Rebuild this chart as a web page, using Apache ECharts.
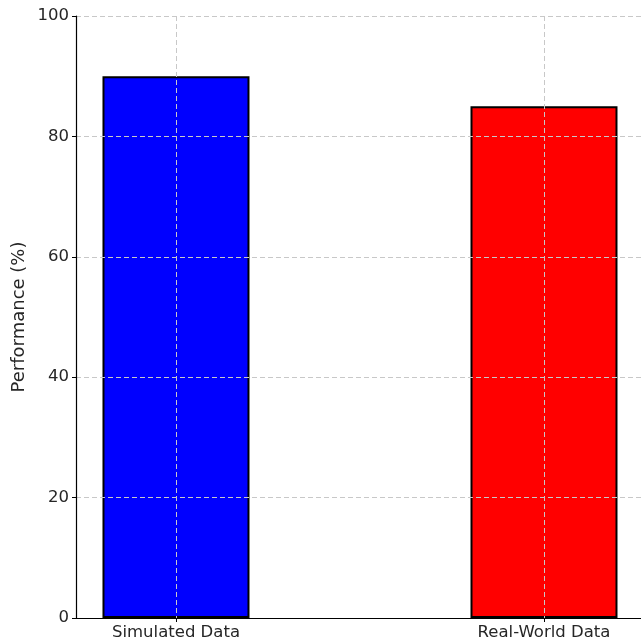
<!DOCTYPE html>
<html>
<head>
<meta charset="utf-8">
<style>
  html, body { margin: 0; padding: 0; background: #fff; }
  #chart { width: 641px; height: 644px; }
</style>
<script src="https://cdn.jsdelivr.net/npm/echarts@6/dist/echarts.min.js"></script>
</head>
<body>
<div id="chart"></div>
<script>
// Categories and their performance scores (%)
const categories = ['Simulated Data', 'Real-World Data'];
const performance = [90, 85];
const barColors = ['#0000ff', '#ff0000'];
const yTicks = [0, 20, 40, 60, 80, 100];

const positions = categories.map((_, i) => i);
const font = 'DejaVu Sans, sans-serif';
const gridLine = { color: '#c8c8c8', type: [5, 3], width: 1 };

const chart = echarts.init(document.getElementById('chart'), null, { renderer: 'canvas' });

chart.setOption({
  animation: false,
  grid: { left: 76, top: 16, right: 0, bottom: 26, containLabel: false },
  xAxis: {
    type: 'value',
    min: -0.2717,
    max: 1.2636,
    z: 5,
    axisLine: { show: true, onZero: false, lineStyle: { color: '#000', width: 1.2 } },
    axisTick: { show: true, customValues: positions, length: 4, inside: false, lineStyle: { color: '#000' } },
    axisLabel: {
      customValues: positions,
      formatter: v => categories[Math.round(v)] ?? '',
      fontFamily: font, fontSize: 16.5, color: '#262626', margin: 6
    },
    splitLine: { show: true, lineStyle: gridLine }
  },
  yAxis: {
    type: 'value',
    min: yTicks[0],
    max: yTicks[yTicks.length - 1],
    interval: 20,
    z: 5,
    name: 'Performance (%)',
    nameLocation: 'middle',
    nameGap: 48,
    nameMoveOverlap: false,
    nameTextStyle: { fontFamily: font, fontSize: 18, color: '#262626' },
    axisLine: { show: true, onZero: false, lineStyle: { color: '#000', width: 1.2 } },
    axisTick: { show: true, length: 4, inside: false, lineStyle: { color: '#000' } },
    axisLabel: { fontFamily: font, fontSize: 16.5, color: '#262626', margin: 7 },
    splitLine: { show: true, lineStyle: gridLine }
  },
  series: [{
    type: 'bar',
    barWidth: 147,
    z: 2,
    data: performance.map((v, i) => ({
      value: [positions[i], v],
      itemStyle: { color: barColors[i], borderColor: '#000', borderWidth: 2 }
    }))
  }]
});
</script>
</body>
</html>
